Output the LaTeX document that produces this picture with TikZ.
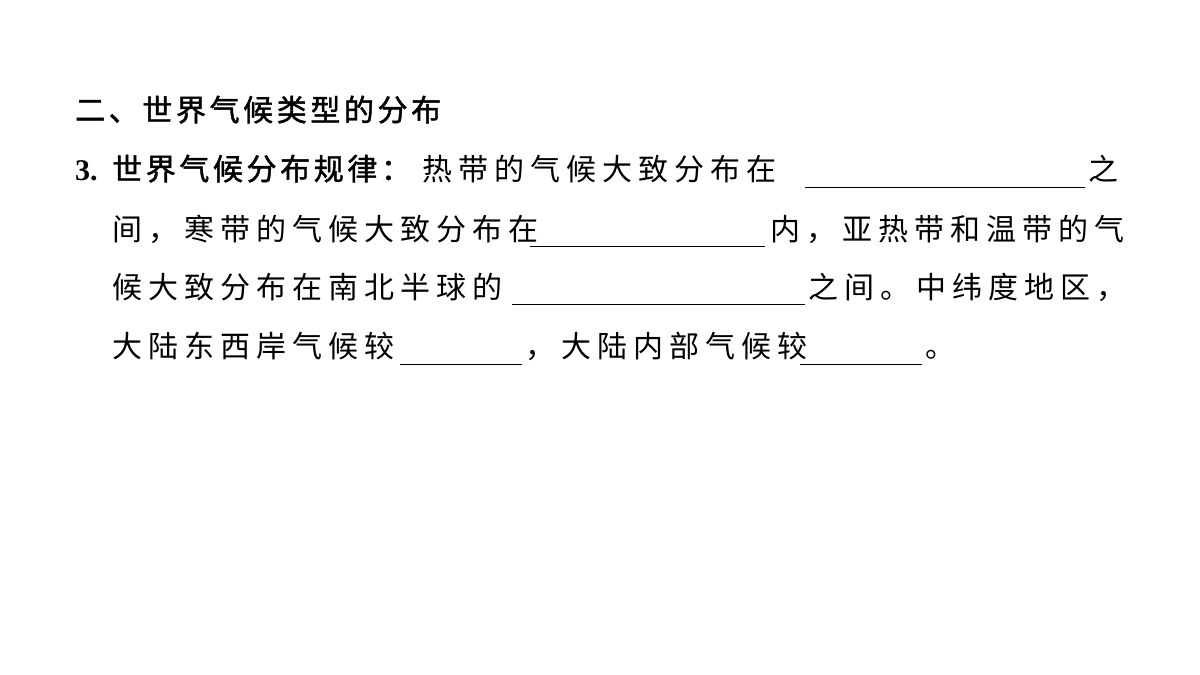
\documentclass[tikz,border=0pt]{standalone}
\usepackage{fontspec}
\newfontfamily\cjk[LetterSpace=20]{Noto Sans CJK SC}
\newfontfamily\cjkb[LetterSpace=12,FakeBold=1.5]{Noto Sans CJK SC}
\newfontfamily\numf{Liberation Serif}
\begin{document}
\begin{tikzpicture}[x=1pt,y=-1pt,
  t/.style={anchor=base west,inner sep=0pt,font=\fontsize{30}{30}\cjk},
  tb/.style={anchor=base west,inner sep=0pt,font=\fontsize{30}{30}\cjkb},
  blank/.style={line width=0.8pt}]
\useasboundingbox[fill=white] (0,0) rectangle (1200,675);
\node[tb] (h) at (75,121) {二、世界气候类型的分布};
\node[anchor=base west,inner sep=0pt,font=\fontsize{30}{30}\numf\bfseries] (n3) at (75,180) {3.};
\node[tb] (l2a) at (112,180) {世界气候分布规律：};
\node[t] (l2b) at (422,180) {热带的气候大致分布在};
\coordinate (b1s) at (805,187); \coordinate (b1e) at (1085,187);
\draw[blank] (b1s) -- (b1e);
\node[t] (l2c) at (1088,180) {之};
\node[t] (l3a) at (112,240) {间，寒带的气候大致分布在};
\coordinate (b2s) at (530,246); \coordinate (b2e) at (765,246);
\draw[blank] (b2s) -- (b2e);
\node[t] (l3b) at (770,240) {内，亚热带和温带的气};
\node[t] (l4a) at (112,298) {候大致分布在南北半球的};
\coordinate (b3s) at (512,304); \coordinate (b3e) at (805,304);
\draw[blank] (b3s) -- (b3e);
\node[t] (l4b) at (808,298) {之间。中纬度地区，};
\node[t] (l5a) at (112,357) {大陆东西岸气候较};
\coordinate (b4s) at (400,364); \coordinate (b4e) at (522,364);
\draw[blank] (b4s) -- (b4e);
\node[t] (l5b) at (525,357) {，大陆内部气候较};
\coordinate (b5s) at (800,364); \coordinate (b5e) at (922,364);
\draw[blank] (b5s) -- (b5e);
\node[t] (l5c) at (925,357) {。};
\end{tikzpicture}
\end{document}
